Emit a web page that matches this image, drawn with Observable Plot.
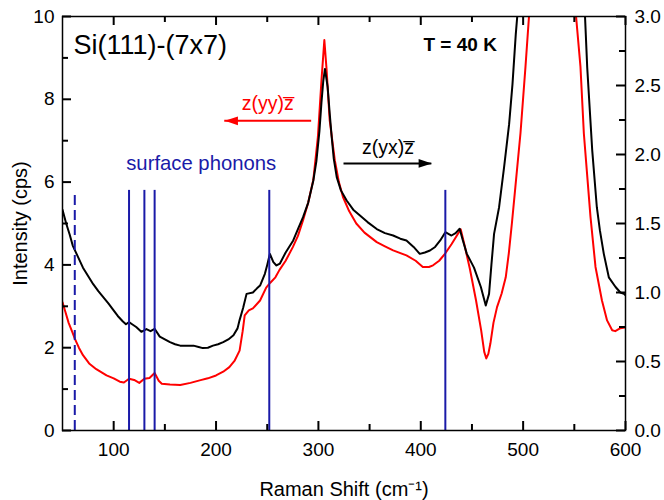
<!DOCTYPE html>
<html><head><meta charset="utf-8">
<script src="https://cdn.jsdelivr.net/npm/d3@7"></script>
<script src="https://cdn.jsdelivr.net/npm/@observablehq/plot@0.6"></script>
<style>body{margin:0;background:#fff}</style>
</head><body><div id="chart"></div>
<script>
// ---- data ----
const xMajorTicks = [100, 200, 300, 400, 500, 600];
const xMinorTicks = [150, 250, 350, 450, 550];
const yLeftMajor = [0, 2, 4, 6, 8, 10];
const yLeftMinor = [1, 3, 5, 7, 9];
const yRightMajor = [0, 0.5, 1.0, 1.5, 2.0, 2.5, 3.0];
const yRightMinor = [0.25, 0.75, 1.25, 1.75, 2.25, 2.75];
const rightPerLeft = 0.3; // right axis (0–3) vs left axis (0–10)

// z(yy)z̄ spectrum, left axis (cps)
const redSpectrum = [
[50,3.1],[53,2.85],[56,2.6],[60,2.35],[62,2.22],[66,2.0],[70,1.82],[76,1.62],[83,1.48],[93,1.33],
[100,1.26],[106,1.18],[110,1.16],[115,1.25],[120,1.22],[125,1.15],[130,1.25],[135,1.27],[140,1.39],
[144,1.2],[147,1.13],[155,1.11],[165,1.10],[175,1.15],[184,1.21],[192,1.26],[200,1.33],[207,1.42],
[213,1.53],[218,1.68],[223,1.93],[226,2.4],[228,2.78],[232,2.9],[236,2.95],[243,3.14],[249,3.45],
[253,3.57],[258,3.7],[262,3.88],[268,4.1],[275,4.43],[280,4.7],[285,5.08],[290,5.5],[295,6.05],
[299.5,7.09],[303,8.46],[305.8,9.43],[308,8.71],[311,7.5],[316,6.53],[320,6.0],[324,5.64],[330,5.3],
[337,5.0],[345,4.78],[357,4.55],[365,4.45],[373,4.35],[386,4.23],[395,4.1],[402,3.95],[408,3.95],
[412,3.99],[418,4.1],[424,4.28],[430,4.5],[435,4.7],[439,4.86],[443,4.45],[448,3.9],[454,3.14],
[459,2.42],[462,1.9],[464,1.74],[466,1.85],[468,2.1],[471,2.6],[474.5,2.98],[479,3.31],[483,3.7],
[486,4.28],[489,5.0],[492.4,5.88],[497.4,7.18],[502.3,8.79],[506,10.1],[515,12.5],[530,14],
[545,12.5],[551,10.2],[556,8.79],[559.3,7.18],[565.8,5.16],[570.7,3.95],[577,3.14],[582,2.66],
[587,2.42],[590,2.4],[595,2.47],[600,2.49]
];

// z(yx)z̄ spectrum, right axis
const blackSpectrum = [
[50,1.60],[53.6,1.50],[57,1.42],[60,1.34],[65,1.26],[70,1.18],[75,1.12],[80,1.06],[85,1.01],[89.4,0.97],
[95,0.92],[99,0.88],[104,0.83],[109,0.79],[112,0.77],[115,0.785],[118,0.77],[122,0.75],[127,0.715],
[132,0.735],[136,0.72],[140,0.737],[145,0.68],[150,0.66],[155,0.64],[160,0.625],[165,0.615],[172,0.615],
[178,0.615],[183,0.605],[187,0.597],[192,0.6],[197,0.615],[202,0.625],[207,0.64],[212,0.66],[217,0.69],
[221,0.74],[223,0.80],[226.5,0.89],[229.8,0.99],[236,1.0],[240,1.03],[243,1.05],[247.7,1.135],[250,1.2],
[252.6,1.28],[256,1.22],[259,1.196],[262.4,1.21],[268,1.29],[275.4,1.377],[280,1.46],[285,1.546],
[290,1.65],[295,1.81],[298,1.95],[301,2.17],[303,2.38],[304.8,2.536],[306.4,2.62],[309,2.49],[311,2.3],
[313,2.125],[315,1.97],[317.9,1.836],[322,1.74],[327.6,1.667],[334,1.6],[340.6,1.558],[348,1.51],
[357,1.46],[365,1.43],[373,1.413],[380,1.39],[386,1.377],[393,1.33],[399,1.28],[404,1.29],[409,1.304],
[414,1.33],[419,1.377],[424,1.437],[430,1.413],[434,1.43],[438,1.462],[441,1.38],[445,1.28],[452,1.18],
[458.7,1.04],[463.5,0.906],[466.7,0.99],[469,1.2],[471.6,1.425],[476.5,1.618],[481.4,1.908],[486.3,2.22],
[489.6,2.51],[492.8,2.87],[497,3.25],[528,4.5],[559,3.25],[562.6,2.63],[567.5,2.03],[572,1.618],
[575,1.45],[578.8,1.28],[583.7,1.11],[590.3,1.04],[595,1.0],[598.5,0.99],[600,0.98]
];

// surface phonon markers (cm^-1) and their line tops (left-axis units)
const phononSolid = [115, 130, 140, 252, 424];
const phononSolidTop = 5.8;
const phononDashed = [62];
const phononDashedTop = 5.68;

// annotations
const titleText = "Si(111)-(7x7)";
const tempText = "T = 40 K";
const yyText = "z(yy)z\u0305";
const yxText = "z(yx)z\u0305";
const phononText = "surface phonons";
const xLabel = "Raman Shift (cm\u207B\u00B9)";
const yLabel = "Intensity (cps)";
const annotations = [
  {text: titleText, x: 60.8, y: 9.30, color: "#000", size: 27, weight: "normal", anchor: "start"},
  {text: tempText, x: 438.5, y: 9.32, color: "#000", size: 19, weight: "bold", anchor: "middle"},
  {text: yyText, x: 250.5, y: 7.89, color: "#ff0000", size: 19.5, weight: "normal", anchor: "middle"},
  {text: yxText, x: 368, y: 6.82, color: "#000", size: 19.5, weight: "normal", anchor: "middle"},
  {text: phononText, x: 185.5, y: 6.44, color: "#1a1aa8", size: 20.3, weight: "normal", anchor: "middle"}
];
const arrows = [
  {x1: 293.4, x2: 208.5, y: 7.48, color: "#ff0000", dir: "left"},
  {x1: 325, x2: 410.8, y: 6.45, color: "#000", dir: "right"}
];

// ---- layout ----
const W = 664, H = 500, mL = 62, mR = 39, mT = 16, mB = 70;
const frameW = W - mL - mR, frameH = H - mT - mB;
const majorLen = 9, minorLen = 6;

const headLeft = {draw(ctx, size) { const r = Math.sqrt(size / Math.PI);
  ctx.moveTo(-1.2 * r, 0); ctx.lineTo(1.2 * r, -0.8 * r); ctx.lineTo(1.2 * r, 0.8 * r); ctx.closePath(); }};
const headRight = {draw(ctx, size) { const r = Math.sqrt(size / Math.PI);
  ctx.moveTo(1.2 * r, 0); ctx.lineTo(-1.2 * r, -0.8 * r); ctx.lineTo(-1.2 * r, 0.8 * r); ctx.closePath(); }};

const font = "'Liberation Sans', Arial, Helvetica, sans-serif";
const tickStyle = {stroke: "#000", strokeWidth: 2};
const rightTicksMajor = yRightMajor.map(v => v / rightPerLeft);
const rightTicksMinor = yRightMinor.map(v => v / rightPerLeft);

const chart = Plot.plot({
  width: W,
  height: H,
  marginLeft: mL,
  marginRight: mR,
  marginTop: mT,
  marginBottom: mB,
  style: {fontFamily: font, fontSize: "19px", background: "#fff", color: "#000"},
  x: {domain: [50, 600]},
  y: {domain: [0, 10]},
  marks: [
    Plot.line(redSpectrum, {x: d => d[0], y: d => d[1], stroke: "#ff0000", strokeWidth: 2, clip: true}),
    Plot.line(blackSpectrum, {x: d => d[0], y: d => d[1] / rightPerLeft, stroke: "#000", strokeWidth: 2, clip: true}),
    Plot.ruleX(phononSolid, {x: d => d, y1: 0, y2: phononSolidTop, stroke: "#1a1aa8", strokeWidth: 2}),
    Plot.ruleX(phononDashed, {x: d => d, y1: 0, y2: phononDashedTop, stroke: "#1a1aa8", strokeWidth: 2, strokeDasharray: "10,5"}),
    // arrows
    Plot.ruleY(arrows, {y: "y", x1: "x1", x2: "x2", stroke: "color", strokeWidth: 2}),
    Plot.dot(arrows.filter(a => a.dir === "left"), {x: "x2", y: "y", fill: "color", stroke: null, r: 5.5, symbol: headLeft, dx: 6.6}),
    Plot.dot(arrows.filter(a => a.dir === "right"), {x: "x2", y: "y", fill: "color", stroke: null, r: 5.5, symbol: headRight, dx: -6.6}),
    // annotations
    ...annotations.map(a => Plot.text([a], {x: "x", y: "y", text: "text", fill: a.color, fontSize: a.size, fontWeight: a.weight, textAnchor: a.anchor})),
    // frame
    Plot.frame({stroke: "#000", strokeWidth: 1.5}),
    // inward ticks (rules spanning the frame, inset to tick length)
    Plot.ruleX(xMajorTicks, {x: d => d, insetTop: frameH - majorLen, ...tickStyle}),
    Plot.ruleX(xMinorTicks, {x: d => d, insetTop: frameH - minorLen, ...tickStyle}),
    Plot.ruleX(xMajorTicks, {x: d => d, insetBottom: frameH - majorLen, ...tickStyle}),
    Plot.ruleX(xMinorTicks, {x: d => d, insetBottom: frameH - minorLen, ...tickStyle}),
    Plot.ruleY(yLeftMajor, {y: d => d, insetRight: frameW - majorLen, ...tickStyle}),
    Plot.ruleY(yLeftMinor, {y: d => d, insetRight: frameW - minorLen, ...tickStyle}),
    Plot.ruleY(rightTicksMajor, {y: d => d, insetLeft: frameW - majorLen, ...tickStyle}),
    Plot.ruleY(rightTicksMinor, {y: d => d, insetLeft: frameW - minorLen, ...tickStyle}),
    // tick labels
    Plot.axisX({anchor: "bottom", ticks: xMajorTicks, tickSize: 0, tickPadding: 12, label: null, fontSize: 19}),
    Plot.axisY({anchor: "left", ticks: yLeftMajor, tickSize: 0, tickPadding: 8, label: null, fontSize: 19}),
    Plot.axisY({anchor: "right", ticks: rightTicksMajor, tickSize: 0, tickPadding: 9, label: null, fontSize: 19,
      tickFormat: d => (d * rightPerLeft).toFixed(1)}),
    // axis titles
    Plot.text([xLabel], {text: d => d, frameAnchor: "bottom", textAnchor: "middle", lineAnchor: "middle", dy: 58.6, fontSize: 20}),
    Plot.text([yLabel], {text: d => d, frameAnchor: "left", textAnchor: "middle", lineAnchor: "middle", dx: -41.5, rotate: -90, fontSize: 20})
  ]
});
document.getElementById("chart").appendChild(chart);
</script>
</body></html>
